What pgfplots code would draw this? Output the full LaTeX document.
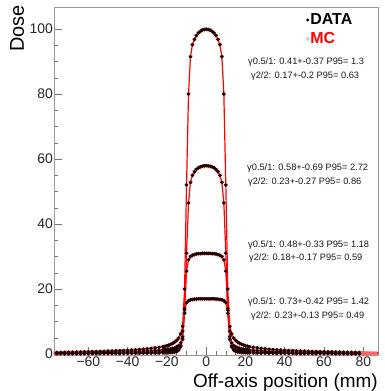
\documentclass[border=0pt]{standalone}
\usepackage{pgfplots}
\pgfplotsset{compat=1.18}
\usepackage{pgfplotstable}
\usepackage{fontspec}
\setmainfont{Liberation Sans}

\pgfplotstableread{
x A B C D
-78 0.48 0.28 0.15 0.08
-76 0.50 0.29 0.16 0.09
-74 0.53 0.31 0.16 0.09
-72 0.55 0.32 0.17 0.09
-70 0.58 0.34 0.18 0.10
-68 0.60 0.35 0.19 0.10
-66 0.63 0.37 0.20 0.11
-64 0.66 0.38 0.20 0.11
-62 0.69 0.40 0.21 0.12
-60 0.72 0.42 0.22 0.12
-58 0.75 0.44 0.23 0.13
-56 0.78 0.45 0.24 0.13
-54 0.82 0.48 0.25 0.14
-52 0.86 0.50 0.27 0.15
-50 0.90 0.52 0.28 0.15
-48 0.94 0.55 0.29 0.16
-46 0.99 0.57 0.31 0.17
-44 1.04 0.60 0.32 0.18
-42 1.10 0.64 0.34 0.19
-40 1.15 0.67 0.36 0.20
-38 1.22 0.71 0.38 0.21
-36 1.30 0.75 0.40 0.22
-34 1.40 0.81 0.43 0.24
-32 1.50 0.87 0.47 0.26
-30 1.62 0.93 0.50 0.27
-28 1.75 0.99 0.53 0.29
-26 1.90 1.07 0.57 0.31
-24 2.05 1.16 0.62 0.34
-22 2.25 1.28 0.68 0.37
-21 2.40 1.34 0.71 0.40
-20 2.55 1.40 0.75 0.42
-19 2.75 1.50 0.80 0.46
-18 3.00 1.60 0.87 0.50
-17 3.30 1.75 0.95 0.56
-16 3.70 1.95 1.05 0.65
-15 4.20 2.20 1.20 0.80
-14 4.90 2.60 1.50 1.20
-13 6.20 3.40 2.20 2.50
-12 8.50 5.30 4.50 7.00
-11 20.0 12.5 14.0 13.5
-10 52.0 31.0 25.5 15.8
-9 80.0 46.5 29.0 16.4
-8 91.5 52.8 30.0 16.7
-7 95.2 55.0 30.4 16.8
-6 96.8 56.1 30.6 16.9
-5 98.0 56.8 30.8 16.9
-4 98.8 57.3 30.9 17.0
-3 99.3 57.6 30.9 17.0
-2 99.7 57.8 31.0 17.0
-1 99.9 57.9 31.0 17.0
0 100.0 58.0 31.0 17.0
1 99.9 57.9 31.0 17.0
2 99.7 57.8 31.0 17.0
3 99.3 57.6 30.9 17.0
4 98.8 57.3 30.9 17.0
5 98.0 56.8 30.8 16.9
6 96.8 56.1 30.6 16.9
7 95.2 55.0 30.4 16.8
8 91.5 52.8 30.0 16.7
9 80.0 46.5 29.0 16.4
10 52.0 31.0 25.5 15.8
11 20.0 12.5 14.0 13.5
12 8.50 5.30 4.50 7.00
13 6.20 3.40 2.20 2.50
14 4.90 2.60 1.50 1.20
15 4.20 2.20 1.20 0.80
16 3.70 1.95 1.05 0.65
17 3.30 1.75 0.95 0.56
18 3.00 1.60 0.87 0.50
19 2.75 1.50 0.80 0.46
20 2.55 1.40 0.75 0.42
21 2.40 1.34 0.71 0.40
22 2.25 1.28 0.68 0.37
24 2.05 1.16 0.62 0.34
26 1.90 1.07 0.57 0.31
28 1.75 0.99 0.53 0.29
30 1.62 0.93 0.50 0.27
32 1.50 0.87 0.47 0.26
34 1.40 0.81 0.43 0.24
36 1.30 0.75 0.40 0.22
38 1.22 0.71 0.38 0.21
40 1.15 0.67 0.36 0.20
42 1.10 0.64 0.34 0.19
44 1.04 0.60 0.32 0.18
46 0.99 0.57 0.31 0.17
48 0.94 0.55 0.29 0.16
50 0.90 0.52 0.28 0.15
52 0.86 0.50 0.27 0.15
54 0.82 0.48 0.25 0.14
56 0.78 0.45 0.24 0.13
58 0.75 0.44 0.23 0.13
60 0.72 0.42 0.22 0.12
62 0.69 0.40 0.21 0.12
64 0.66 0.38 0.20 0.11
66 0.63 0.37 0.20 0.11
68 0.60 0.35 0.19 0.10
70 0.58 0.34 0.18 0.10
72 0.55 0.32 0.17 0.09
74 0.53 0.31 0.16 0.09
76 0.50 0.29 0.16 0.09
78 0.48 0.28 0.15 0.08
80 0.46 0.27 0.15 0.08
82 0.44 0.26 0.14 0.08
84 0.42 0.25 0.14 0.07
86 0.40 0.24 0.13 0.07
88 0.38 0.23 0.12 0.07
}\prof

\begin{document}
\begin{tikzpicture}
\begin{axis}[name=ax, scale only axis, width=324bp, height=348bp,
  xmin=-77.5, xmax=87.5, ymin=-0.3, ymax=106.8,
  tick pos=left, tick align=inside,
  major tick length=8bp, minor tick length=4bp,
  xtick={-60,-40,-20,0,20,40,60,80},
  xticklabels={−60,−40,−20,0,20,40,60,80},
  ytick={0,20,40,60,80,100},
  minor x tick num=3, minor y tick num=3,
  /pgf/number format/assume math mode=true,
  axis line style={black!40, line width=0.6bp},
  every tick/.style={black!55, line width=0.5bp},
  tick label style={font=\fontsize{14}{14}\selectfont, text=black!85},
  yticklabel style={inner sep=1bp},
  xticklabel style={inner sep=2bp},
  legend image code/.code={\draw[#1] plot coordinates {(0.12cm,0cm)};},
  legend style={at={(rel axis cs:0.777,0.984)}, anchor=north west,
    draw=none, fill=none, inner sep=0pt, row sep=4bp,
    font=\fontsize{16}{16}\selectfont\bfseries,
    nodes={inner sep=1bp}},
  legend cell align=left,
]
\addlegendimage{mark=*, mark size=1.3bp, black, fill=black}
\addlegendentry{DATA}
\addlegendimage{mark=triangle*, mark size=2bp, mark options={rotate=180, fill=red!30, draw=red!30}}
\addlegendentry[text=red]{MC}

\foreach \c in {A,B,C,D}{
\addplot[red, line width=1.2bp, mark=triangle*, mark size=1.6bp,
  mark options={rotate=180, fill=red!55, draw=red!60, opacity=0.7}, forget plot]
  table[x=x, y=\c]{\prof};
}
\foreach \c in {A,B,C,D}{
\addplot[only marks, mark=*, mark size=1.6bp, black!90!red, fill=black!90!red,
  restrict x to domain=-80:79, forget plot]
  table[x=x, y=\c]{\prof};
}

\tikzset{gt/.style={anchor=west, inner sep=0pt, font=\fontsize{9.3}{10}\selectfont, text=black!90}}
\node[gt] at (axis cs:21.3,89.9) {γ0.5/1: 0.41+-0.37 P95= 1.3};
\node[gt] at (axis cs:22.8,85.6) {γ2/2: 0.17+-0.2 P95= 0.63};
\node[gt] at (axis cs:20.8,57.3) {γ0.5/1: 0.58+-0.69 P95= 2.72};
\node[gt] at (axis cs:21.3,53.0) {γ2/2: 0.23+-0.27 P95= 0.86};
\node[gt] at (axis cs:21.3,33.6) {γ0.5/1: 0.48+-0.33 P95= 1.18};
\node[gt] at (axis cs:21.8,29.6) {γ2/2: 0.18+-0.17 P95= 0.59};
\node[gt] at (axis cs:21.3,16.0) {γ0.5/1: 0.73+-0.42 P95= 1.42};
\node[gt] at (axis cs:22.8,11.7) {γ2/2: 0.23+-0.13 P95= 0.49};
\end{axis}
\node[rotate=90, anchor=north east, inner sep=0pt, font=\fontsize{20}{20}\selectfont]
  at ([xshift=-44bp, yshift=2bp]ax.north west) {Dose};
\node[anchor=base east, inner sep=0pt, font=\fontsize{19}{19}\selectfont]
  at ([yshift=-32bp]ax.south east) {Off-axis position (mm)};
\pgfresetboundingbox
\path[use as bounding box] ([xshift=-54bp, yshift=-36bp]ax.south west) rectangle ([xshift=7bp, yshift=7bp]ax.north east);
\end{tikzpicture}
\end{document}
